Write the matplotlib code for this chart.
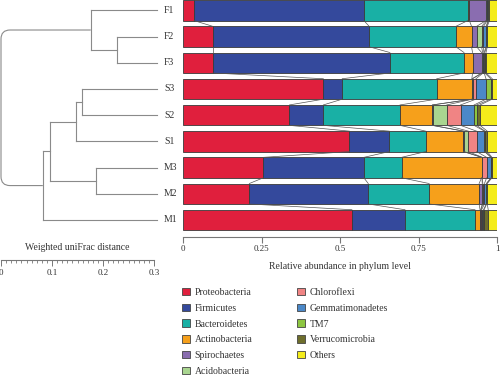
import numpy as np
import matplotlib.pyplot as plt
from matplotlib.patches import Patch
from matplotlib.path import Path
from matplotlib.patches import PathPatch

plt.rcParams['font.family'] = ['Liberation Serif', 'DejaVu Serif']

# muestras (de arriba a abajo)
samples = ['F1', 'F2', 'F3', 'S3', 'S2', 'S1', 'M3', 'M2', 'M1']
phyla = ['Proteobacteria', 'Firmicutes', 'Bacteroidetes', 'Actinobacteria',
         'Spirochaetes', 'Acidobacteria', 'Chloroflexi', 'Gemmatimonadetes',
         'TM7', 'Verrucomicrobia', 'Others']
colors = ['#e01f3d', '#34499c', '#19b0a5', '#f6a01b', '#8a6db0', '#a9d590',
          '#f08484', '#4b88c8', '#8dc641', '#6e6e2c', '#f4ec1b']

# abundancia relativa por muestra, en el orden de phyla
F1 = [.035, .541, .331, .005, .053, .002, .002, .003, .001, .003, .024]
F2 = [.095, .498, .276, .050, .016, .016, .006, .008, .002, .002, .031]
F3 = [.095, .564, .236, .027, .029, .003, .002, .003, .002, .004, .035]
S3 = [.447, .060, .301, .112, .001, .001, .011, .032, .015, .005, .015]
S2 = [.339, .108, .244, .103, .001, .045, .044, .043, .008, .011, .054]
S1 = [.530, .127, .116, .120, .001, .015, .026, .025, .002, .007, .031]
M3 = [.256, .320, .120, .255, .001, .001, .014, .014, .001, .002, .016]
M2 = [.211, .379, .194, .159, .010, .002, .005, .006, .001, .002, .031]
M1 = [.538, .169, .223, .016, .002, .001, .002, .006, .002, .013, .028]

# arbol (weighted UniFrac): (hijo a, hijo b, posicion del nodo)
merges = [('F2', 'F3', 'F23', 0.228),
          ('F1', 'F23', 'F', 0.176),
          ('S3', 'S2', 'S32', 0.159),
          ('S32', 'S1', 'S', 0.148),
          ('M3', 'M2', 'M32', 0.186),
          ('S', 'M32', 'SM32', 0.096),
          ('SM32', 'M1', 'SM', 0.082)]
root = ('F', 'SM', 0.0)
leaf_x = 0.306

data = np.array([F1, F2, F3, S3, S2, S1, M3, M2, M1])
ypos = np.arange(len(samples))
h = 0.78

fig = plt.figure(figsize=(5, 3.79), dpi=100)
ax = fig.add_axes([0.366, 0.3747, 0.628, 0.627])
left = np.zeros(len(samples))
for j, name in enumerate(phyla):
    ax.barh(ypos, data[:, j], left=left, height=h, color=colors[j],
            edgecolor='#3a3a3a', linewidth=0.6)
    left = left + data[:, j]

# lineas que unen los limites entre barras vecinas
cum = np.cumsum(data, axis=1)
for i in range(len(samples) - 1):
    for k in range(len(phyla) - 1):
        ax.plot([cum[i, k], cum[i + 1, k]], [ypos[i] + h / 2, ypos[i + 1] - h / 2],
                color='#555555', linewidth=0.5)

ax.set_xlim(0, 1)
ax.set_ylim(8.65, -0.42)
ax.set_yticks([])
ax.set_xticks([0, 0.25, 0.5, 0.75, 1])
ax.set_xticklabels(['0', '0.25', '0.5', '0.75', '1'])
ax.tick_params(axis='x', length=4, width=0.8, color='#777777', pad=2,
               labelsize=6.5, labelcolor='#333333')
for s in ['top', 'left', 'right']:
    ax.spines[s].set_visible(False)
ax.spines['bottom'].set_color('#777777')
ax.spines['bottom'].set_linewidth(0.8)
ax.set_xlabel('Relative abundance in phylum level', fontsize=7, color='#333333',
              labelpad=6)

# dendrograma
axd = fig.add_axes([0.002, 0.3747, 0.306, 0.627])
axd.set_xlim(0, 0.3)
axd.set_ylim(8.65, -0.42)
axd.axis('off')
lc = '#8a8a8a'
lw = 0.8
node_x = {s: leaf_x for s in samples}
node_y = {s: float(y) for s, y in zip(samples, ypos)}
for a, b, name, x in merges:
    axd.plot([x, x], [node_y[a], node_y[b]], color=lc, lw=lw, clip_on=False)
    for c in (a, b):
        axd.plot([x, node_x[c]], [node_y[c], node_y[c]], color=lc, lw=lw,
                 clip_on=False)
    node_x[name] = x
    node_y[name] = (node_y[a] + node_y[b]) / 2

a, b, x0 = root
rx, ry = 9 / 153 * 0.3, 9 / 26.2
ya, yb = node_y[a], node_y[b]
verts = [(node_x[a], ya), (x0 + rx, ya), (x0, ya), (x0, ya + ry),
         (x0, yb - ry), (x0, yb), (x0 + rx, yb), (node_x[b], yb)]
codes = [Path.MOVETO, Path.LINETO, Path.CURVE3, Path.CURVE3,
         Path.LINETO, Path.CURVE3, Path.CURVE3, Path.LINETO]
axd.add_patch(PathPatch(Path(verts, codes), fill=False, edgecolor=lc, lw=lw,
                        clip_on=False))

for s in samples:
    axd.text(0.3196, node_y[s], s, ha='left', va='center', fontsize=7,
             color='#333333', clip_on=False)

# barra de escala
axs = fig.add_axes([0.002, 0.314, 0.306, 0.0001])
axs.set_xlim(0, 0.3)
axs.set_yticks([])
for s in ['top', 'left', 'right']:
    axs.spines[s].set_visible(False)
axs.spines['bottom'].set_color('#777777')
axs.spines['bottom'].set_linewidth(0.8)
axs.set_xticks([0, 0.1, 0.2, 0.3])
axs.set_xticklabels(['0', '0.1', '0.2', '0.3'])
axs.set_xticks(np.arange(0, 0.301, 0.01), minor=True)
axs.tick_params(axis='x', which='major', length=4, width=0.7, color='#777777',
                pad=2.5, labelsize=6.5, labelcolor='#333333')
axs.tick_params(axis='x', which='minor', length=2.5, width=0.6, color='#777777')
axs.set_title('Weighted uniFrac distance', fontsize=7, color='#333333', pad=7)

handles = [Patch(facecolor=c, edgecolor='#444444', linewidth=0.6) for c in colors]
fig.legend(handles, phyla, loc='upper left', bbox_to_anchor=(0.364, 1 - 288 / 379),
           ncol=2, frameon=False, fontsize=7, handlelength=0.8, handleheight=0.8,
           handletextpad=0.5, labelspacing=0.68, columnspacing=4.6,
           borderpad=0, borderaxespad=0, labelcolor='#333333')

fig.savefig('out.png', dpi=100)
